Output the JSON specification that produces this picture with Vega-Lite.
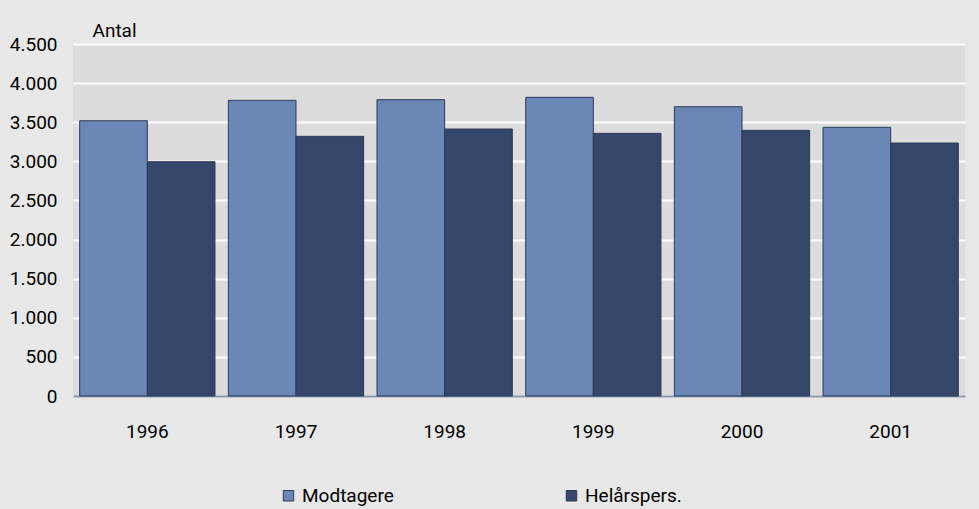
{
  "$schema": "https://vega.github.io/schema/vega-lite/v6.json",
  "width": 892,
  "height": 352,
  "autosize": {"type": "none"},
  "padding": {"left": 73, "top": 44, "right": 14, "bottom": 113},
  "background": "#e8e8e8",
  "config": {
    "locale": {"number": {"decimal": ",", "thousands": ".", "grouping": [3], "currency": ["", " kr."]}},
    "view": {"fill": "#dcdcdc", "stroke": null},
    "font": "Roboto"
  },
  "data": {
    "values": [
      {"aar": "1996", "serie": "Modtagere", "antal": 3519},
      {"aar": "1996", "serie": "Helårspers.", "antal": 2995},
      {"aar": "1997", "serie": "Modtagere", "antal": 3780},
      {"aar": "1997", "serie": "Helårspers.", "antal": 3320},
      {"aar": "1998", "serie": "Modtagere", "antal": 3788},
      {"aar": "1998", "serie": "Helårspers.", "antal": 3413},
      {"aar": "1999", "serie": "Modtagere", "antal": 3818},
      {"aar": "1999", "serie": "Helårspers.", "antal": 3358},
      {"aar": "2000", "serie": "Modtagere", "antal": 3698},
      {"aar": "2000", "serie": "Helårspers.", "antal": 3396},
      {"aar": "2001", "serie": "Modtagere", "antal": 3435},
      {"aar": "2001", "serie": "Helårspers.", "antal": 3234}
    ]
  },
  "mark": {"type": "bar", "stroke": "#2b3a58", "strokeWidth": 1},
  "encoding": {
    "x": {
      "field": "aar", "type": "nominal",
      "scale": {"paddingInner": 0.09, "paddingOuter": 0.045},
      "axis": {
        "title": null, "labelAngle": 0, "ticks": false, "grid": false,
        "domainColor": "#8a96a8", "domainWidth": 2,
        "labelFontSize": 19, "labelColor": "#000000", "labelPadding": 26
      }
    },
    "xOffset": {"field": "serie", "type": "nominal", "sort": ["Modtagere", "Helårspers."], "scale": {"paddingInner": 0, "paddingOuter": 0}},
    "y": {
      "field": "antal", "type": "quantitative",
      "scale": {"domain": [0, 4500], "nice": false},
      "axis": {
        "values": [0, 500, 1000, 1500, 2000, 2500, 3000, 3500, 4000, 4500],
        "format": ",d",
        "domain": false, "ticks": false,
        "gridColor": "#ffffff", "gridWidth": 2, "gridOpacity": 1,
        "labelFontSize": 19, "labelColor": "#000000", "labelPadding": 16,
        "title": "Antal", "titleAngle": 0, "titleAlign": "left", "titleBaseline": "alphabetic",
        "titleX": 19, "titleY": -8, "titleFontSize": 19, "titleFontWeight": "normal", "titleColor": "#000000"
      }
    },
    "color": {
      "field": "serie", "type": "nominal",
      "sort": ["Modtagere", "Helårspers."],
      "scale": {"domain": ["Modtagere", "Helårspers."], "range": ["#6a87b5", "#34466a"]},
      "legend": {
        "title": null, "orient": "none", "direction": "horizontal",
        "legendX": 206, "legendY": 442,
        "symbolType": "square", "symbolSize": 110, "symbolStrokeColor": "#2b3a58", "symbolStrokeWidth": 1,
        "labelFontSize": 19, "labelColor": "#000000", "labelOffset": 4,
        "columnPadding": 168
      }
    }
  }
}
